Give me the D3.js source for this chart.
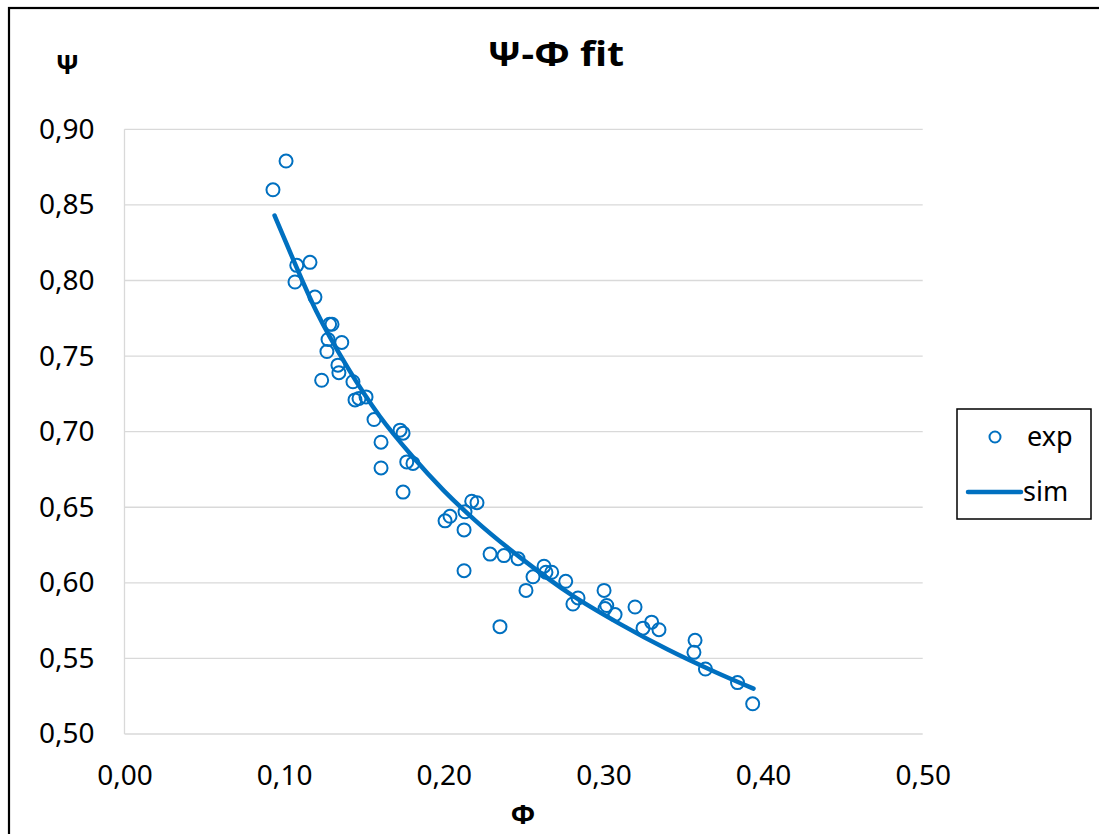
<!DOCTYPE html>
<html>
<head>
<meta charset="utf-8">
<script src="https://cdn.jsdelivr.net/npm/d3@7"></script>
<style>
  html, body { margin: 0; padding: 0; background: #fff; }
  svg { display: block; font-family: "Noto Sans", "Open Sans", sans-serif; }
</style>
</head>
<body>
<svg id="chart" width="1099" height="834"></svg>
<script>
// Measured flow coefficient (Φ) and head coefficient (Ψ)
const phiExp = [0.0930, 0.1012, 0.1079, 0.1162, 0.1068, 0.1193, 0.1285, 0.1300, 0.1275, 0.1361,
  0.1268, 0.1337, 0.1343, 0.1235, 0.1431, 0.1444, 0.1469, 0.1513, 0.1563, 0.1607,
  0.1726, 0.1745, 0.1607, 0.1768, 0.1807, 0.1745, 0.2008, 0.2039, 0.2133, 0.2175,
  0.2208, 0.2127, 0.2127, 0.2290, 0.2377, 0.2465, 0.2515, 0.2559, 0.2628, 0.2640,
  0.2676, 0.2764, 0.2841, 0.2809, 0.3004, 0.3021, 0.3010, 0.3073, 0.3198, 0.3248,
  0.3302, 0.3348, 0.3574, 0.3567, 0.3639, 0.3840, 0.3935, 0.2352];
const psiExp = [0.860, 0.879, 0.810, 0.812, 0.799, 0.789, 0.771, 0.771, 0.761, 0.759,
  0.753, 0.744, 0.739, 0.734, 0.733, 0.721, 0.722, 0.723, 0.708, 0.693,
  0.701, 0.699, 0.676, 0.680, 0.679, 0.660, 0.641, 0.644, 0.647, 0.654,
  0.653, 0.635, 0.608, 0.619, 0.618, 0.616, 0.595, 0.604, 0.611, 0.607,
  0.607, 0.601, 0.590, 0.586, 0.595, 0.585, 0.583, 0.579, 0.584, 0.570,
  0.574, 0.569, 0.562, 0.554, 0.543, 0.534, 0.520, 0.571];

// Simulated characteristic
const phiSim = [0.094, 0.10, 0.12, 0.14, 0.16, 0.18, 0.20, 0.22, 0.25, 0.28, 0.31, 0.34, 0.37, 0.394];
const psiSim = [0.843, 0.828, 0.780, 0.742, 0.710, 0.684, 0.661, 0.641, 0.615, 0.592, 0.573, 0.556, 0.541, 0.530];

const xTicks = [0.00, 0.10, 0.20, 0.30, 0.40, 0.50];
const yTicks = [0.50, 0.55, 0.60, 0.65, 0.70, 0.75, 0.80, 0.85, 0.90];

const blue = "#0070C0";
const fmt = v => v.toFixed(2).replace(".", ",");

const svg = d3.select("#chart");

// Outer chart frame
svg.append("rect")
  .attr("x", 9).attr("y", 8).attr("width", 1200).attr("height", 900)
  .attr("fill", "#fff").attr("stroke", "#000").attr("stroke-width", 2.2);

const x = d3.scaleLinear().domain([0, 0.5]).range([124.5, 922.7]);
const y = d3.scaleLinear().domain([0.5, 0.9]).range([734, 129.3]);

// Horizontal gridlines
svg.append("g")
  .selectAll("line").data(yTicks).join("line")
  .attr("x1", x(0)).attr("x2", x(0.5))
  .attr("y1", d => y(d)).attr("y2", d => y(d))
  .attr("stroke", "#d9d9d9").attr("stroke-width", 1.3);

// Vertical axis line
svg.append("line")
  .attr("x1", x(0)).attr("x2", x(0))
  .attr("y1", y(0.9)).attr("y2", y(0.5))
  .attr("stroke", "#d9d9d9").attr("stroke-width", 1.3);

// Y tick labels
const yAxis = d3.axisLeft(y).tickValues(yTicks).tickFormat(fmt).tickSize(0).tickPadding(30);
const gy = svg.append("g").attr("transform", `translate(${x(0)},0)`).call(yAxis);
gy.select(".domain").remove();
gy.selectAll("text").attr("font-size", 28).attr("fill", "#000")
  .attr("font-family", "'Noto Sans', sans-serif");

// X tick labels
const xAxis = d3.axisBottom(x).tickValues(xTicks).tickFormat(fmt).tickSize(0).tickPadding(31);
const gx = svg.append("g").attr("transform", `translate(0,${y(0.5)})`).call(xAxis);
gx.select(".domain").remove();
gx.selectAll("text").attr("font-size", 28).attr("fill", "#000")
  .attr("font-family", "'Noto Sans', sans-serif");

// Measured points
const exp = phiExp.map((p, i) => ({ phi: p, psi: psiExp[i] }));
svg.append("g")
  .selectAll("circle").data(exp).join("circle")
  .attr("cx", d => x(d.phi)).attr("cy", d => y(d.psi))
  .attr("r", 6.5)
  .attr("fill", "none").attr("stroke", blue).attr("stroke-width", 2);

// Simulated curve
const sim = phiSim.map((p, i) => ({ phi: p, psi: psiSim[i] }));
svg.append("path")
  .datum(sim)
  .attr("d", d3.line().x(d => x(d.phi)).y(d => y(d.psi)).curve(d3.curveMonotoneX))
  .attr("fill", "none").attr("stroke", blue).attr("stroke-width", 4.5)
  .attr("stroke-linecap", "round");

// Title and axis titles
svg.append("text").attr("x", 555.5).attr("y", 66).attr("text-anchor", "middle")
  .attr("font-size", 34).attr("font-weight", "bold")
  .attr("textLength", 137).attr("lengthAdjust", "spacingAndGlyphs").text("Ψ-Φ fit");
svg.append("text").attr("x", 67.5).attr("y", 74).attr("text-anchor", "middle")
  .attr("font-size", 27).attr("font-weight", "bold").text("Ψ");
svg.append("text").attr("x", 523).attr("y", 824).attr("text-anchor", "middle")
  .attr("font-size", 27).attr("font-weight", "bold").text("Φ");

// Legend
const lg = svg.append("g");
lg.append("rect").attr("x", 957).attr("y", 409).attr("width", 134).attr("height", 110)
  .attr("fill", "#fff").attr("stroke", "#000").attr("stroke-width", 1.5);
lg.append("circle").attr("cx", 995).attr("cy", 437).attr("r", 5.5)
  .attr("fill", "none").attr("stroke", blue).attr("stroke-width", 2);
lg.append("text").attr("x", 1027).attr("y", 446).attr("font-size", 27).text("exp");
lg.append("line").attr("x1", 968).attr("x2", 1021).attr("y1", 492).attr("y2", 492)
  .attr("stroke", blue).attr("stroke-width", 4.5).attr("stroke-linecap", "round");
lg.append("text").attr("x", 1023).attr("y", 501).attr("font-size", 27).text("sim");
</script>
</body>
</html>
